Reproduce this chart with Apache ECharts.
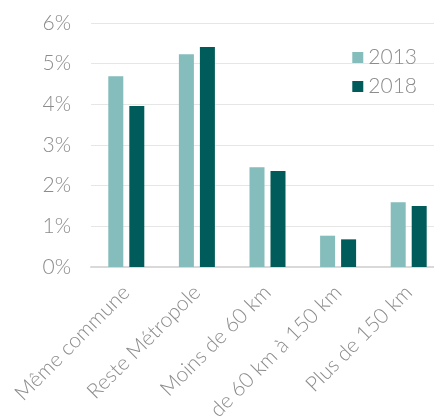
<!DOCTYPE html>
<html>
<head>
<meta charset="utf-8">
<script src="https://cdn.jsdelivr.net/npm/echarts@6/dist/echarts.min.js"></script>
<style>
  html, body { margin: 0; padding: 0; background: #fff; }
  #chart { width: 434px; height: 419px; }
</style>
</head>
<body>
<div id="chart"></div>
<script>
const categories = ['Même commune', 'Reste Métropole', 'Moins de 60 km', 'de 60 km à 150 km', 'Plus de 150 km'];
const values2013 = [4.69, 5.23, 2.45, 0.77, 1.59];
const values2018 = [3.96, 5.41, 2.36, 0.68, 1.50];
const yTicks = [0, 1, 2, 3, 4, 5, 6];

const chart = echarts.init(document.getElementById('chart'));
const textGrey = '#8c8c8c';

chart.setOption({
  animation: false,
  textStyle: { fontFamily: 'Lato' },
  grid: { left: 91, top: 23, width: 353, height: 244, outerBoundsMode: 'none', containLabel: false },
  legend: {
    orient: 'vertical',
    right: 12,
    top: 42,
    itemWidth: 11,
    itemHeight: 11,
    itemGap: 8,
    icon: 'rect',
    textStyle: { fontSize: 21, color: textGrey, fontWeight: 300 },
    data: ['2013', '2018']
  },
  xAxis: {
    type: 'category',
    data: categories,
    axisLine: { lineStyle: { color: '#d9d9d9', width: 2 } },
    axisTick: { show: false },
    axisLabel: { rotate: 45, fontSize: 21, color: textGrey, fontWeight: 300, margin: 22, interval: 0 }
  },
  yAxis: {
    type: 'value',
    min: yTicks[0],
    max: yTicks[yTicks.length - 1],
    interval: 1,
    axisLine: { show: false },
    axisTick: { show: false },
    splitLine: { lineStyle: { color: '#e6e6e6', width: 1 } },
    axisLabel: { fontSize: 21, color: textGrey, fontWeight: 300, margin: 20, formatter: v => v + '%' }
  },
  series: [
    { name: '2013', type: 'bar', data: values2013, barWidth: 15, barGap: '40%',
      itemStyle: { color: '#84bdbb' } },
    { name: '2018', type: 'bar', data: values2018, barWidth: 15, barGap: '40%',
      itemStyle: { color: '#005c5b' } }
  ]
});
</script>
</body>
</html>
